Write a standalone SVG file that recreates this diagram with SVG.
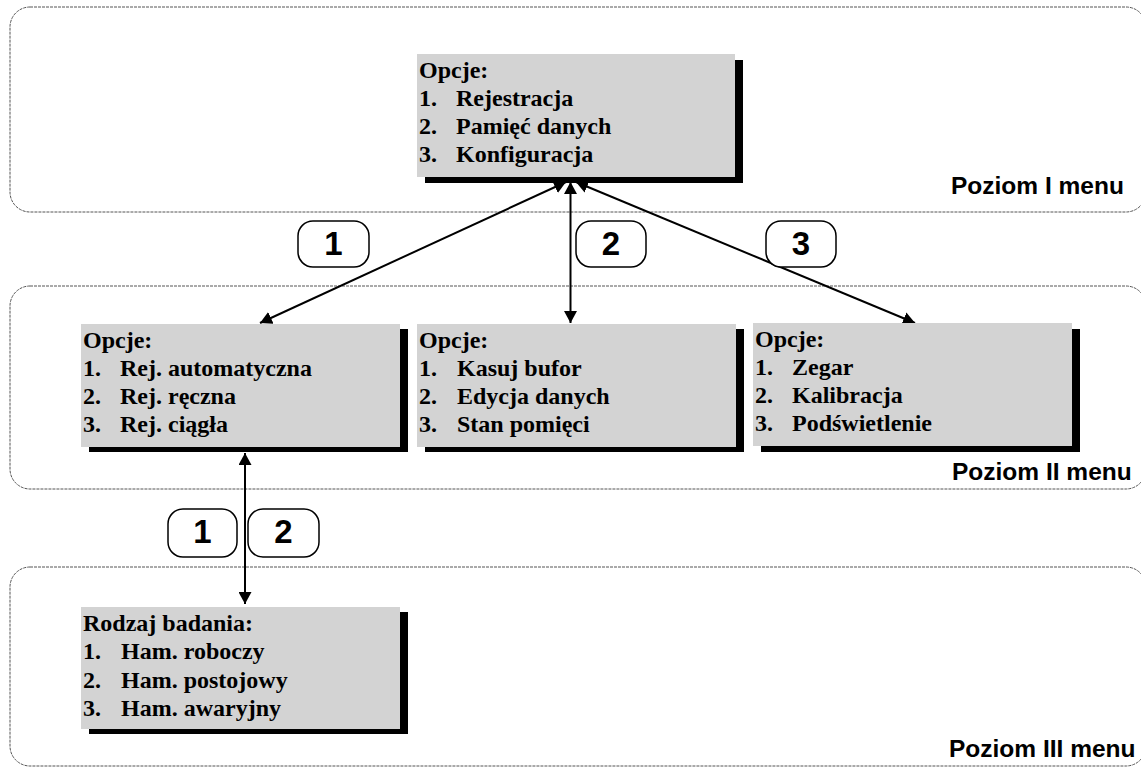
<svg xmlns="http://www.w3.org/2000/svg" width="1141" height="767" viewBox="0 0 1141 767">
<defs>
<marker id="ah" markerUnits="userSpaceOnUse" markerWidth="13" markerHeight="13" refX="12" refY="6.5" orient="auto-start-reverse">
<path d="M0,0 L12,6.5 L0,13 Z" fill="#000"/>
</marker>
</defs>
<style>
.panel{fill:none;stroke:#555;stroke-width:1;stroke-dasharray:3 1}
.box{fill:#d3d3d3}
.shadow{fill:#000}
.t{font-family:"Liberation Serif","Times New Roman",serif;font-weight:bold;font-size:24px;fill:#000}
.lvl{font-family:"Liberation Sans",Arial,sans-serif;font-weight:bold;font-size:24.5px;fill:#000}
.tag{fill:#fff;stroke:#000;stroke-width:1.5}
.num{font-family:"Liberation Sans",Arial,sans-serif;font-weight:bold;font-size:33px;fill:#000;text-anchor:middle}
.conn{stroke:#000;stroke-width:2;fill:none;marker-start:url(#ah);marker-end:url(#ah)}
</style>
<rect width="1141" height="767" fill="#fff"/>
<g id="panel1">
<rect class="panel" x="10" y="7" width="1136" height="205" rx="20"/>
<text class="lvl" x="951" y="194">Poziom I menu</text>
</g>
<g id="panel2">
<rect class="panel" x="10" y="286" width="1136" height="203" rx="20"/>
<text class="lvl" x="952" y="480">Poziom II menu</text>
</g>
<g id="panel3">
<rect class="panel" x="10" y="567" width="1136" height="199" rx="20"/>
<text class="lvl" x="949" y="757">Poziom III menu</text>
</g>
<g id="connectors">
<line class="conn" x1="566" y1="182" x2="260" y2="323"/>
<line class="conn" x1="570.5" y1="182" x2="570.5" y2="323"/>
<line class="conn" x1="576" y1="182" x2="915" y2="323"/>
<line class="conn" x1="245" y1="453" x2="245" y2="604"/>
</g>
<g id="box-top">
<rect class="shadow" x="425" y="60" width="318" height="123"/>
<rect class="box" x="417" y="54" width="318" height="123"/>
<text class="t" x="419" y="78">Opcje:</text>
<text class="t" x="419" y="106">1.</text><text class="t" x="456" y="106">Rejestracja</text>
<text class="t" x="419" y="134">2.</text><text class="t" x="456" y="134">Pamięć danych</text>
<text class="t" x="419" y="162">3.</text><text class="t" x="456" y="162">Konfiguracja</text>
</g>
<g id="box-rej">
<rect class="shadow" x="89" y="329" width="319" height="123"/>
<rect class="box" x="81" y="324" width="319" height="123"/>
<text class="t" x="83" y="348">Opcje:</text>
<text class="t" x="83" y="376">1.</text><text class="t" x="120" y="376">Rej. automatyczna</text>
<text class="t" x="83" y="404">2.</text><text class="t" x="120" y="404">Rej. ręczna</text>
<text class="t" x="83" y="432">3.</text><text class="t" x="120" y="432">Rej. ciągła</text>
</g>
<g id="box-pam">
<rect class="shadow" x="425" y="329" width="319" height="123"/>
<rect class="box" x="417" y="324" width="319" height="123"/>
<text class="t" x="419" y="348">Opcje:</text>
<text class="t" x="419" y="376">1.</text><text class="t" x="457" y="376">Kasuj bufor</text>
<text class="t" x="419" y="404">2.</text><text class="t" x="457" y="404">Edycja danych</text>
<text class="t" x="419" y="432">3.</text><text class="t" x="457" y="432">Stan pomięci</text>
</g>
<g id="box-konf">
<rect class="shadow" x="761" y="329" width="319" height="123"/>
<rect class="box" x="753" y="323" width="319" height="123"/>
<text class="t" x="755" y="347">Opcje:</text>
<text class="t" x="755" y="375">1.</text><text class="t" x="792" y="375">Zegar</text>
<text class="t" x="755" y="403">2.</text><text class="t" x="792" y="403">Kalibracja</text>
<text class="t" x="755" y="431">3.</text><text class="t" x="792" y="431">Podświetlenie</text>
</g>
<g id="box-badanie">
<rect class="shadow" x="89" y="612" width="319" height="122"/>
<rect class="box" x="81" y="607" width="319" height="122"/>
<text class="t" x="83" y="631">Rodzaj badania:</text>
<text class="t" x="83" y="659">1.</text><text class="t" x="121" y="659">Ham. roboczy</text>
<text class="t" x="83" y="688">2.</text><text class="t" x="121" y="688">Ham. postojowy</text>
<text class="t" x="83" y="716">3.</text><text class="t" x="121" y="716">Ham. awaryjny</text>
</g>
<g id="tag-1">
<rect class="tag" x="298" y="221" width="71" height="46" rx="15"/>
<text class="num" x="333.5" y="255">1</text>
</g>
<g id="tag-2">
<rect class="tag" x="576" y="221" width="70" height="46" rx="15"/>
<text class="num" x="611" y="255">2</text>
</g>
<g id="tag-3">
<rect class="tag" x="766" y="221" width="70" height="46" rx="15"/>
<text class="num" x="801" y="255">3</text>
</g>
<g id="tag-l1">
<rect class="tag" x="168" y="509" width="69" height="48" rx="15"/>
<text class="num" x="202.5" y="543">1</text>
</g>
<g id="tag-l2">
<rect class="tag" x="248" y="509" width="71" height="48" rx="15"/>
<text class="num" x="283.5" y="543">2</text>
</g>
</svg>
